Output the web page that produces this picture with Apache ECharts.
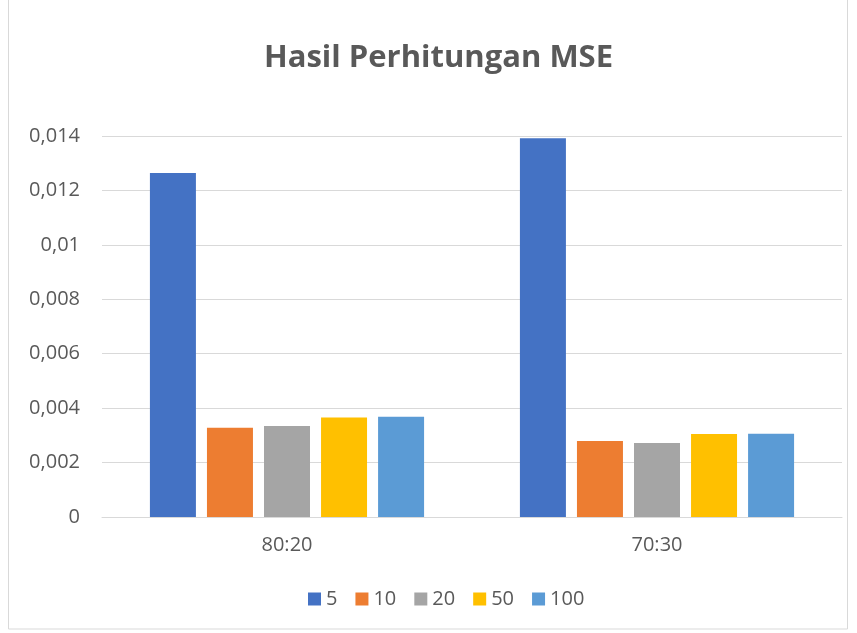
<!DOCTYPE html>
<html><head><meta charset="utf-8">
<script src="https://cdn.jsdelivr.net/npm/echarts@6/dist/echarts.min.js"></script>
<style>html,body{margin:0;padding:0;background:#fff}#c{width:857px;height:633px}</style>
</head><body><div id="c"></div>
<script>
const categories = ['80:20', '70:30'];
const seriesNames = ['5', '10', '20', '50', '100'];
const s5 = [0.01264, 0.01392];
const s10 = [0.00328, 0.00279];
const s20 = [0.00334, 0.00272];
const s50 = [0.00366, 0.00305];
const s100 = [0.00368, 0.00306];
const colors = ['#4472C4', '#ED7D31', '#A5A5A5', '#FFC000', '#5B9BD5'];
const values = [s5, s10, s20, s50, s100];
const font = 'Open Sans, Noto Sans, sans-serif';
const chart = echarts.init(document.getElementById('c'), null, {renderer: 'canvas'});
chart.setOption({
  animation: false,
  backgroundColor: '#fff',
  graphic: [{type: 'rect', shape: {x: 8.5, y: -2, width: 839, height: 631}, style: {fill: 'none', stroke: '#d9d9d9', lineWidth: 1}}],
  title: {text: 'Hasil Perhitungan MSE', left: 259, top: 38,
    textStyle: {fontFamily: font, fontWeight: 'bold', fontSize: 31, color: '#595959'}},
  legend: {bottom: 19, left: 303, itemWidth: 13, itemHeight: 13, itemGap: 18, icon: 'rect',
    textStyle: {fontFamily: font, fontSize: 20, color: '#595959'}},
  grid: {left: 102, right: 15, top: 136, bottom: 116, containLabel: false},
  xAxis: {type: 'category', data: categories,
    axisLine: {lineStyle: {color: '#d9d9d9'}}, axisTick: {show: false},
    axisLabel: {fontFamily: font, fontSize: 20, color: '#595959', margin: 18}},
  yAxis: {type: 'value', min: 0, max: 0.014, interval: 0.002,
    axisLine: {show: false}, axisTick: {show: false},
    splitLine: {lineStyle: {color: '#d9d9d9', width: 1}},
    axisLabel: {fontFamily: font, fontSize: 20, color: '#595959', margin: 22,
      formatter: v => v === 0 ? '0' : String(+v.toFixed(3)).replace('.', ',')}},
  series: seriesNames.map((n, i) => ({
    name: n, type: 'bar', data: values[i], barWidth: 46, barGap: '24%',
    itemStyle: {color: colors[i]}
  }))
});
</script></body></html>
